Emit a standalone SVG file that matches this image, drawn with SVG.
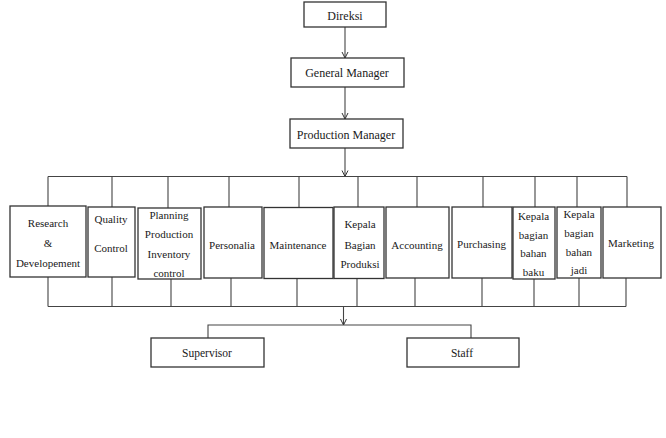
<svg xmlns="http://www.w3.org/2000/svg" width="666" height="438" viewBox="0 0 666 438" font-family="'Liberation Serif', 'DejaVu Serif', serif">
<defs>
<marker id="arr" markerUnits="userSpaceOnUse" markerWidth="8" markerHeight="8" refX="6.5" refY="3.5" orient="auto">
<path d="M0.5,0.5 L6.5,3.5 L0.5,6.5" fill="none" stroke="#333" stroke-width="1"/>
</marker>
</defs>
<style>
.box{fill:#fff;stroke:#333;stroke-width:1.3}
.ln{fill:none;stroke:#444;stroke-width:1.1}
text{font-family:'Liberation Serif','DejaVu Serif',serif;fill:#1a1a1a;text-anchor:middle}
.t12{font-size:12px}
.t11{font-size:11px}
.t115{font-size:11.5px}
</style>
<rect width="666" height="438" fill="#fff"/>
<g id="connectors" class="ln">
<line x1="345" y1="27" x2="345" y2="58" marker-end="url(#arr)"/>
<line x1="345" y1="87" x2="345" y2="119" marker-end="url(#arr)"/>
<line x1="345" y1="148" x2="345" y2="176.5" marker-end="url(#arr)"/>
<line x1="48" y1="176.5" x2="627" y2="176.5"/>
<path d="M48,176.5V206 M112,176.5V207 M168,176.5V208 M229,176.5V207 M299,176.5V207.5 M358,176.5V207 M417,176.5V207 M483,176.5V207 M535,176.5V207 M577,176.5V207 M627,176.5V207"/>
<path d="M48,277V306.5 M112,277V306.5 M171,279V306.5 M231,278V306.5 M297,278.5V306.5 M357,278.5V306.5 M415,278V306.5 M482,278V306.5 M534,279V306.5 M579,278V306.5 M626,278V306.5"/>
<line x1="48" y1="306.5" x2="626" y2="306.5"/>
<line x1="343.5" y1="306.5" x2="343.5" y2="325" marker-end="url(#arr)"/>
<path d="M208,338V325H471V338"/>
</g>
<g id="direksi"><rect class="box" x="304" y="2" width="82" height="25"/><text class="t12" x="345" y="19.5">Direksi</text></g>
<g id="general-manager"><rect class="box" x="291" y="58" width="113" height="29"/><text class="t12" x="347" y="77">General Manager</text></g>
<g id="production-manager"><rect class="box" x="290" y="119" width="113" height="29"/><text class="t12" x="346" y="139">Production  Manager</text></g>
<g id="research"><rect class="box" x="10" y="206" width="76" height="71"/><text class="t11" x="48" y="227">Research</text><text class="t11" x="48" y="247">&amp;</text><text class="t11" x="48" y="266.5">Developement</text></g>
<g id="quality"><rect class="box" x="88" y="207" width="47" height="70"/><text class="t11" x="111" y="223">Quality</text><text class="t11" x="111" y="252">Control</text></g>
<g id="planning"><rect class="box" x="138" y="208" width="63" height="71"/><text class="t11" x="169" y="219">Planning</text><text class="t11" x="169" y="238">Production</text><text class="t11" x="169" y="258">Inventory</text><text class="t11" x="169" y="277">control</text></g>
<g id="personalia"><rect class="box" x="204" y="207" width="58" height="71"/><text class="t11" x="232" y="248.5">Personalia</text></g>
<g id="maintenance"><rect class="box" x="264" y="207.5" width="69" height="71"/><text class="t11" x="298" y="248.5">Maintenance</text></g>
<g id="kepala-produksi"><rect class="box" x="334" y="207" width="50" height="71.5"/><text class="t11" x="360" y="228">Kepala</text><text class="t11" x="360" y="248.5">Bagian</text><text class="t11" x="360" y="268">Produksi</text></g>
<g id="accounting"><rect class="box" x="386" y="207" width="63" height="71"/><text class="t11" x="417" y="248.5">Accounting</text></g>
<g id="purchasing"><rect class="box" x="452" y="207" width="60" height="71"/><text class="t11" x="481.5" y="248">Purchasing</text></g>
<g id="bahan-baku"><rect class="box" x="513" y="207" width="42" height="72"/><text class="t11" x="533.5" y="219.5">Kepala</text><text class="t11" x="533.5" y="239">bagian</text><text class="t11" x="533.5" y="257">bahan</text><text class="t11" x="533.5" y="275.5">baku</text></g>
<g id="bahan-jadi"><rect class="box" x="557" y="207" width="44" height="71"/><text class="t11" x="579" y="218">Kepala</text><text class="t11" x="579" y="237">bagian</text><text class="t11" x="579" y="255.5">bahan</text><text class="t11" x="579" y="274">jadi</text></g>
<g id="marketing"><rect class="box" x="603" y="207" width="58" height="71"/><text class="t11" x="631" y="247">Marketing</text></g>
<g id="supervisor"><rect class="box" x="151" y="338" width="113" height="29"/><text class="t115" x="207" y="357">Supervisor</text></g>
<g id="staff"><rect class="box" x="407" y="338" width="112" height="29"/><text class="t115" x="462" y="357">Staff</text></g>
</svg>
